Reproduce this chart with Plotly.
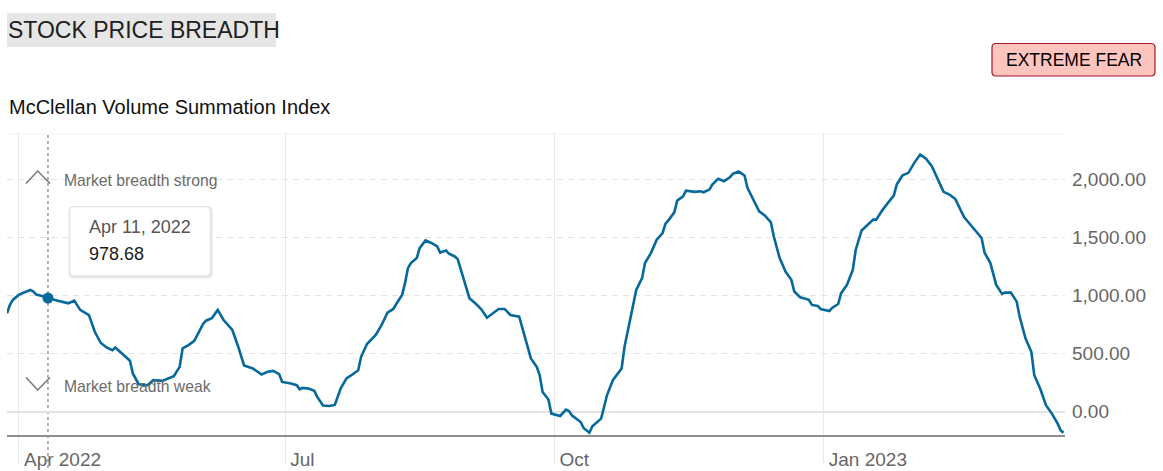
import plotly.graph_objects as go

# ---------------- data ----------------
dates = [
    "2022-03-28", "2022-03-29", "2022-03-30", "2022-04-01", "2022-04-03", "2022-04-05", "2022-04-06",
    "2022-04-07", "2022-04-09", "2022-04-11", "2022-04-14", "2022-04-16", "2022-04-18", "2022-04-20",
    "2022-04-22", "2022-04-25", "2022-04-27", "2022-04-29", "2022-05-01", "2022-05-03", "2022-05-04",
    "2022-05-06", "2022-05-09", "2022-05-10", "2022-05-12", "2022-05-15", "2022-05-17", "2022-05-20",
    "2022-05-24", "2022-05-26", "2022-05-27", "2022-05-29", "2022-05-31", "2022-06-03", "2022-06-04",
    "2022-06-06", "2022-06-08", "2022-06-10", "2022-06-13", "2022-06-15", "2022-06-17", "2022-06-20",
    "2022-06-23", "2022-06-25", "2022-06-27", "2022-06-29", "2022-06-30", "2022-07-03", "2022-07-05",
    "2022-07-06", "2022-07-07", "2022-07-09", "2022-07-11", "2022-07-12", "2022-07-14", "2022-07-16",
    "2022-07-18", "2022-07-20", "2022-07-22", "2022-07-24", "2022-07-26", "2022-07-27", "2022-07-29",
    "2022-08-01", "2022-08-03", "2022-08-05", "2022-08-07", "2022-08-08", "2022-08-10", "2022-08-11",
    "2022-08-12", "2022-08-13", "2022-08-15", "2022-08-16", "2022-08-18", "2022-08-20", "2022-08-22",
    "2022-08-23", "2022-08-25", "2022-08-26", "2022-08-28", "2022-08-29", "2022-08-31", "2022-09-02",
    "2022-09-04", "2022-09-06", "2022-09-08", "2022-09-10", "2022-09-12", "2022-09-14", "2022-09-16",
    "2022-09-19", "2022-09-20", "2022-09-23", "2022-09-25", "2022-09-26", "2022-09-27", "2022-09-29",
    "2022-09-30", "2022-10-01", "2022-10-03", "2022-10-05", "2022-10-06", "2022-10-07", "2022-10-10",
    "2022-10-11", "2022-10-13", "2022-10-14", "2022-10-17", "2022-10-18", "2022-10-19", "2022-10-21",
    "2022-10-24", "2022-10-25", "2022-10-27", "2022-10-29", "2022-10-31", "2022-11-01", "2022-11-03",
    "2022-11-05", "2022-11-07", "2022-11-08", "2022-11-09", "2022-11-11", "2022-11-12", "2022-11-14",
    "2022-11-15", "2022-11-18", "2022-11-20", "2022-11-21", "2022-11-23", "2022-11-24", "2022-11-26",
    "2022-11-27", "2022-11-28", "2022-11-30", "2022-12-01", "2022-12-03", "2022-12-05", "2022-12-06",
    "2022-12-08", "2022-12-10", "2022-12-12", "2022-12-14", "2022-12-15", "2022-12-17", "2022-12-19",
    "2022-12-21", "2022-12-22", "2022-12-24", "2022-12-26", "2022-12-27", "2022-12-28", "2022-12-30",
    "2022-12-31", "2023-01-03", "2023-01-04", "2023-01-06", "2023-01-07", "2023-01-09", "2023-01-11",
    "2023-01-12", "2023-01-14", "2023-01-16", "2023-01-18", "2023-01-19", "2023-01-21", "2023-01-23",
    "2023-01-25", "2023-01-26", "2023-01-28", "2023-01-30", "2023-02-01", "2023-02-03", "2023-02-05",
    "2023-02-07", "2023-02-09", "2023-02-11", "2023-02-13", "2023-02-15", "2023-02-18", "2023-02-21",
    "2023-02-24", "2023-02-25", "2023-02-27", "2023-03-01", "2023-03-03", "2023-03-04", "2023-03-06",
    "2023-03-08", "2023-03-09", "2023-03-11", "2023-03-13", "2023-03-14", "2023-03-16", "2023-03-18",
    "2023-03-20", "2023-03-22", "2023-03-23", "2023-03-24",
]
values = [
    848, 920, 963, 1006, 1029, 1049, 1035,
    1009, 997, 978.68, 957, 946, 934, 957,
    877, 833, 689, 594, 554, 531, 554,
    508, 439, 330, 237, 229, 272, 266,
    307, 387, 546, 574, 611, 756, 784,
    805, 877, 790, 704, 560, 399, 373,
    321, 344, 352, 324, 257, 244, 229,
    194, 206, 200, 180, 128, 54, 50,
    59, 200, 287, 321, 358, 473, 583,
    661, 747, 853, 885, 928, 1006, 1107,
    1237, 1280, 1323, 1409, 1475, 1453, 1423,
    1371, 1389, 1360, 1337, 1314, 1150, 978,
    934, 885, 810, 848, 885, 885, 833,
    819, 732, 459, 387, 315, 170, 105,
    -16, -24, -36, 19, 7, -30, -88,
    -140, -180, -125, -59, 41, 142, 272,
    373, 560, 796, 1049, 1150, 1280, 1366,
    1481, 1539, 1619, 1648, 1717, 1818, 1855,
    1904, 1893, 1898, 1890, 1913, 1956, 2005,
    1993, 1985, 2019, 2048, 2068, 2034, 1928,
    1826, 1725, 1688, 1631, 1510, 1323, 1207,
    1136, 1035, 986, 972, 963, 920, 911,
    885, 868, 896, 928, 1021, 1092, 1222,
    1395, 1561, 1611, 1654, 1654, 1732, 1798,
    1861, 1956, 2036, 2057, 2143, 2215, 2178,
    2114, 2005, 1893, 1870, 1833, 1677, 1591,
    1496, 1371, 1280, 1092, 1015, 1026, 1026,
    948, 819, 632, 516, 315, 200, 56,
    -16, -102, -160, -180,
]
x_tick_dates = ["2022-04-01", "2022-07-01", "2022-10-01", "2023-01-01"]
x_tick_labels = ["Apr 2022", "Jul", "Oct", "Jan 2023"]
y_tick_values = [0, 500, 1000, 1500, 2000]
hover_date = "2022-04-11"
hover_value = 978.68
hover_date_label = "Apr 11, 2022"
hover_value_label = "978.68"
title_text = "STOCK PRICE BREADTH"
subtitle_text = "McClellan Volume Summation Index"
badge_text = "EXTREME FEAR"
strong_text = "Market breadth strong"
weak_text = "Market breadth weak"

# ---------------- layout helpers ----------------
W, H = 1163, 471
L, R, T, B = 7, 98, 133, 36
PW, PH = W - L - R, H - T - B
FONT = "Liberation Sans, Arial, Helvetica, sans-serif"
LINE_COLOR = "#07699b"


def px(x):
    return (x - L) / PW


def py(y):
    return (H - B - y) / PH


def rrect(x0, y0, x1, y1, r):
    pts = [
        ("M", [(x0 + r, y0)]), ("L", [(x1 - r, y0)]), ("Q", [(x1, y0), (x1, y0 + r)]),
        ("L", [(x1, y1 - r)]), ("Q", [(x1, y1), (x1 - r, y1)]), ("L", [(x0 + r, y1)]),
        ("Q", [(x0, y1), (x0, y1 - r)]), ("L", [(x0, y0 + r)]), ("Q", [(x0, y0), (x0 + r, y0)]),
    ]
    s = ""
    for cmd, ps in pts:
        s += cmd + " " + " ".join(f"{px(a):.5f},{py(b):.5f}" for a, b in ps) + " "
    return s + "Z"


def poly(points):
    return "M " + " L ".join(f"{px(a):.5f},{py(b):.5f}" for a, b in points)


fig = go.Figure()
fig.add_trace(go.Scatter(
    x=dates, y=values, mode="lines",
    line=dict(color=LINE_COLOR, width=2.6), hoverinfo="skip",
))
fig.add_trace(go.Scatter(
    x=[hover_date], y=[hover_value], mode="markers",
    marker=dict(color=LINE_COLOR, size=11), hoverinfo="skip",
))

shapes = [
    # title background
    dict(type="rect", xref="paper", yref="paper", x0=px(7), x1=px(276), y0=py(47), y1=py(13),
         fillcolor="#e6e6e6", line=dict(width=0), layer="below"),
    # badge
    dict(type="path", xref="paper", yref="paper", path=rrect(992, 43.5, 1155, 76, 4),
         fillcolor="#ffc4be", line=dict(color="#a3192b", width=1.2)),
    # top border
    dict(type="line", xref="paper", yref="y", x0=0, x1=1, y0=2400, y1=2400,
         line=dict(color="#ebebeb", width=1), layer="below"),
    # crosshair
    dict(type="line", xref="x", yref="paper", x0=hover_date, x1=hover_date, y0=py(468), y1=1,
         line=dict(color="#9a9a9a", width=1.5, dash="dot"), layer="between"),
    # tooltip shadow + box
    dict(type="path", xref="paper", yref="paper", path=rrect(68, 206, 213, 279, 6),
         fillcolor="rgba(0,0,0,0.05)", line=dict(width=0)),
    dict(type="path", xref="paper", yref="paper", path=rrect(69, 206, 212, 277.5, 5),
         fillcolor="rgba(0,0,0,0.06)", line=dict(width=0)),
    dict(type="path", xref="paper", yref="paper", path=rrect(70, 207, 210, 275.5, 4),
         fillcolor="#ffffff", line=dict(color="#ececec", width=1)),
    # chevrons
    dict(type="path", xref="paper", yref="paper", path=poly([(26, 183.5), (37.7, 171), (50, 183.5)]),
         line=dict(color="#777777", width=1.5)),
    dict(type="path", xref="paper", yref="paper", path=poly([(26, 377.5), (37.7, 390), (50, 377.5)]),
         line=dict(color="#777777", width=1.5)),
]

annotations = [
    dict(text=title_text, x=px(5.5), y=py(30), xanchor="left", yanchor="middle",
         font=dict(size=23, color="#202020", family=FONT)),
    dict(text=subtitle_text, x=px(7), y=py(107), xanchor="left", yanchor="middle",
         font=dict(size=20, color="#111111", family=FONT)),
    dict(text=badge_text, x=px(1073.5), y=py(60), xanchor="center", yanchor="middle",
         font=dict(size=17.5, color="#000000", family=FONT)),
    dict(text=strong_text, x=px(62), y=py(180), xanchor="left", yanchor="middle",
         font=dict(size=15.7, color="#6b6b6b", family=FONT)),
    dict(text=weak_text, x=px(62), y=py(386.5), xanchor="left", yanchor="middle",
         font=dict(size=15.7, color="#6b6b6b", family=FONT)),
    dict(text=hover_date_label, x=px(86.5), y=py(227), xanchor="left", yanchor="middle",
         font=dict(size=18, color="#555555", family=FONT)),
    dict(text=hover_value_label, x=px(86.5), y=py(254), xanchor="left", yanchor="middle",
         font=dict(size=18, color="#1a1a1a", family=FONT)),
]
for a in annotations:
    a.update(xref="paper", yref="paper", showarrow=False)

fig.update_layout(
    width=W, height=H,
    margin=dict(l=L, r=R, t=T, b=B, pad=0, autoexpand=False),
    paper_bgcolor="white", plot_bgcolor="white",
    showlegend=False, hovermode=False,
    font=dict(family=FONT),
    shapes=shapes, annotations=annotations,
    xaxis=dict(
        type="date", range=["2022-03-28", "2023-03-24 12:00"],
        tickvals=x_tick_dates, ticktext=x_tick_labels,
        showgrid=True, gridcolor="#e8e8e8", gridwidth=1,
        ticks="outside", ticklen=26, tickcolor="#e8e8e8", tickwidth=1,
        ticklabelposition="outside right", ticklabelstandoff=6, ticklabelshift=4,
        tickfont=dict(size=19, color="#666666", family=FONT),
        showline=True, linecolor="#8f8f8f", linewidth=1.5,
        zeroline=False, fixedrange=True, automargin=False,
    ),
    yaxis=dict(
        side="right", range=[-200, 2400],
        tickvals=y_tick_values, tickformat=",.2f",
        showgrid=True, gridcolor="#e3e3e3", gridwidth=1, griddash="6px,5px",
        zeroline=True, zerolinecolor="#e3e3e3", zerolinewidth=2,
        ticks="", ticklabelstandoff=6,
        tickfont=dict(size=19, color="#666666", family=FONT),
        showline=False, fixedrange=True, automargin=False,
    ),
)

fig.write_html(
    "out.html",
    config={"displayModeBar": False},
    post_script="document.body.style.margin='0';document.body.style.overflow='hidden';",
)
